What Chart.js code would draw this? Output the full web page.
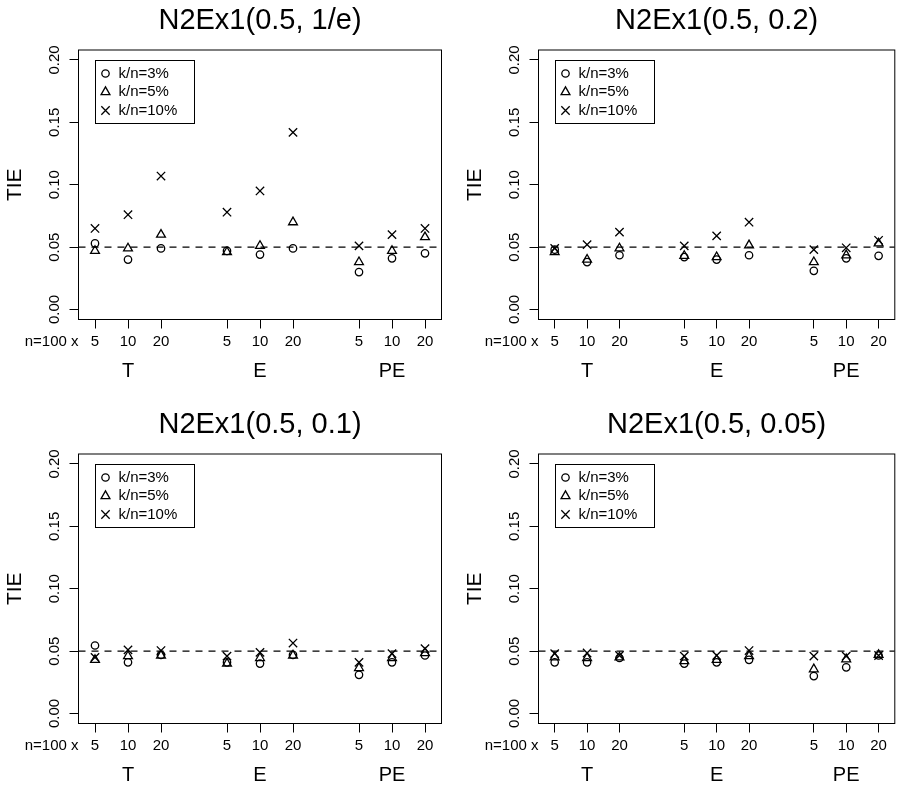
<!DOCTYPE html>
<html>
<head>
<meta charset="utf-8">
<script src="https://cdn.jsdelivr.net/npm/chart.js@4.4.1/dist/chart.umd.min.js"></script>
<style>
  body { margin: 0; background: #fff; width: 902px; height: 785px; position: relative; overflow: hidden; }
  canvas { position: absolute; }
</style>
</head>
<body>
<canvas id="p1" width="451" height="381" style="left:0;top:0"></canvas>
<canvas id="p2" width="442" height="381" style="left:460px;top:0"></canvas>
<canvas id="p3" width="451" height="381" style="left:0;top:404px"></canvas>
<canvas id="p4" width="442" height="381" style="left:460px;top:404px"></canvas>
<script>
"use strict";

const sizeLabels = ["5", "10", "20"];
const methodLabels = ["T", "E", "PE"];
const xPositions = [1, 2, 3, 5, 6, 7, 9, 10, 11];
const methodPositions = [2, 6, 10];
const yTicks = [0, 0.05, 0.1, 0.15, 0.2];
const seriesNames = ["k/n=3%", "k/n=5%", "k/n=10%"];
const nominalLevel = 0.05;

// N2Ex1(0.5, 1/e)
const invE_k3 = [0.053, 0.040, 0.049, 0.047, 0.044, 0.049, 0.030, 0.041, 0.045];
const invE_k5 = [0.047, 0.049, 0.060, 0.046, 0.051, 0.070, 0.038, 0.047, 0.058];
const invE_k10 = [0.065, 0.076, 0.107, 0.078, 0.095, 0.142, 0.051, 0.060, 0.065];

// N2Ex1(0.5, 0.2)
const p02_k3 = [0.048, 0.038, 0.0435, 0.042, 0.040, 0.0435, 0.031, 0.041, 0.043];
const p02_k5 = [0.046, 0.040, 0.049, 0.043, 0.042, 0.0515, 0.038, 0.0435, 0.053];
const p02_k10 = [0.049, 0.052, 0.062, 0.051, 0.059, 0.070, 0.048, 0.0495, 0.0555];

// N2Ex1(0.5, 0.1)
const p01_k3 = [0.0545, 0.041, 0.047, 0.041, 0.040, 0.047, 0.031, 0.041, 0.0465];
const p01_k5 = [0.043, 0.046, 0.0465, 0.040, 0.0445, 0.0465, 0.0365, 0.0445, 0.0485];
const p01_k10 = [0.045, 0.051, 0.0505, 0.046, 0.049, 0.0565, 0.041, 0.048, 0.052];

// N2Ex1(0.5, 0.05)
const p005_k3 = [0.041, 0.041, 0.0445, 0.040, 0.041, 0.043, 0.030, 0.037, 0.0465];
const p005_k5 = [0.045, 0.0445, 0.045, 0.042, 0.043, 0.046, 0.0355, 0.0435, 0.047];
const p005_k10 = [0.048, 0.0485, 0.0465, 0.046, 0.0465, 0.0505, 0.046, 0.046, 0.0465];

const INK = "#000";
const FONT = "'Liberation Sans', Arial, Helvetica, sans-serif";
const X_MIN = 0.5;
const X_MAX = 11.5;
const Y_MIN = -0.008;
const Y_MAX = 0.208;
const TICK_LEN = 9;
const X_LABEL_PAD = 4;
const TICK_FONT = 15;

const markerStyles = [
  { pointStyle: "circle", radius: 3.7 },
  { pointStyle: "triangle", radius: 5.1 },
  { pointStyle: "crossRot", radius: 5.9 }
];

const panels = [
  { id: "p1", title: "N2Ex1(0.5, 1/e)", series: [invE_k3, invE_k5, invE_k10], rightPad: 9.5 },
  { id: "p2", title: "N2Ex1(0.5, 0.2)", series: [p02_k3, p02_k5, p02_k10], rightPad: 0.7 },
  { id: "p3", title: "N2Ex1(0.5, 0.1)", series: [p01_k3, p01_k5, p01_k10], rightPad: 9.5 },
  { id: "p4", title: "N2Ex1(0.5, 0.05)", series: [p005_k3, p005_k5, p005_k10], rightPad: 0.7 }
];

// box round the plot, the key in the corner and the "n=100 x" margin text
const frameAndKey = {
  id: "frameAndKey",
  afterDraw(chart) {
    const { ctx, chartArea: a } = chart;
    ctx.save();
    ctx.strokeStyle = INK;
    ctx.fillStyle = INK;
    ctx.lineWidth = 1;
    ctx.strokeRect(a.left, a.top, a.right - a.left, a.bottom - a.top);

    const kx = Math.round(a.left + 16.5) + 0.5;
    const ky = Math.round(a.top + 10) + 0.5;
    ctx.strokeRect(kx, ky, 99, 63);
    ctx.font = `${TICK_FONT}px ${FONT}`;
    ctx.textBaseline = "middle";
    ctx.textAlign = "left";
    seriesNames.forEach((name, i) => {
      const y = ky + 13 + i * 18.5;
      ctx.fillStyle = "rgba(0,0,0,0)";
      ctx.lineWidth = 1.3;
      Chart.helpers.drawPoint(ctx, {
        pointStyle: markerStyles[i].pointStyle,
        radius: markerStyles[i].radius,
        rotation: 0,
        borderWidth: 1.3
      }, kx + 10, y);
      ctx.fillStyle = INK;
      ctx.fillText(name, kx + 23, y);
    });

    const xs = chart.scales.x;
    ctx.textAlign = "right";
    ctx.fillText("n=100 x", a.left, xs.top + TICK_LEN + X_LABEL_PAD + TICK_FONT * 0.6);
    ctx.restore();
  }
};

function buildPanel(panel) {
  const datasets = panel.series.map((values, i) => ({
    type: "scatter",
    label: seriesNames[i],
    data: values.map((v, j) => ({ x: xPositions[j], y: v })),
    pointStyle: markerStyles[i].pointStyle,
    pointRadius: markerStyles[i].radius,
    pointHoverRadius: markerStyles[i].radius,
    borderWidth: 1.3,
    borderColor: INK,
    backgroundColor: "rgba(0,0,0,0)",
    showLine: false
  }));
  datasets.push({
    type: "line",
    label: "nominal",
    data: [{ x: X_MIN, y: nominalLevel }, { x: X_MAX, y: nominalLevel }],
    borderColor: INK,
    borderWidth: 1.3,
    borderDash: [7, 6],
    pointRadius: 0,
    fill: false,
    tension: 0
  });

  return new Chart(document.getElementById(panel.id), {
    type: "scatter",
    data: { datasets },
    plugins: [frameAndKey],
    options: {
      responsive: false,
      animation: false,
      events: [],
      layout: { padding: { left: 0, right: panel.rightPad, top: 0, bottom: 0 } },
      plugins: {
        legend: { display: false },
        tooltip: { enabled: false },
        title: {
          display: true,
          text: panel.title,
          fullSize: false,
          color: INK,
          font: { family: FONT, size: 29, weight: "normal", lineHeight: 1.2 },
          padding: { top: 4, bottom: 11.2 }
        }
      },
      scales: {
        x: {
          type: "linear",
          position: "bottom",
          min: X_MIN,
          max: X_MAX,
          weight: 0,
          afterBuildTicks: (s) => { s.ticks = xPositions.map((v) => ({ value: v })); },
          afterFit: (s) => { s.height = 34; },
          grid: { display: true, drawOnChartArea: false, drawTicks: true, tickLength: TICK_LEN, color: INK, lineWidth: 1 },
          border: { display: false },
          ticks: {
            autoSkip: false,
            minRotation: 0,
            maxRotation: 0,
            padding: X_LABEL_PAD,
            color: INK,
            font: { family: FONT, size: TICK_FONT },
            callback: (v) => sizeLabels[xPositions.indexOf(v) % sizeLabels.length]
          }
        },
        groups: {
          type: "linear",
          position: "bottom",
          min: X_MIN,
          max: X_MAX,
          weight: 1,
          afterBuildTicks: (s) => { s.ticks = methodPositions.map((v) => ({ value: v })); },
          afterFit: (s) => { s.height = 27.5; },
          grid: { display: false, drawTicks: false },
          border: { display: false },
          ticks: {
            autoSkip: false,
            minRotation: 0,
            maxRotation: 0,
            padding: 6,
            color: INK,
            font: { family: FONT, size: 20 },
            callback: (v) => methodLabels[methodPositions.indexOf(v)]
          }
        },
        y: {
          type: "linear",
          position: "left",
          min: Y_MIN,
          max: Y_MAX,
          afterBuildTicks: (s) => { s.ticks = yTicks.map((v) => ({ value: v })); },
          afterFit: (s) => { s.width = 78.5; },
          grid: { display: true, drawOnChartArea: false, drawTicks: true, tickLength: TICK_LEN, color: INK, lineWidth: 1 },
          border: { display: false },
          title: {
            display: true,
            text: "TIE",
            color: INK,
            font: { family: FONT, size: 21 },
            padding: { top: 2.5, bottom: 0 }
          },
          ticks: {
            autoSkip: false,
            minRotation: 90,
            maxRotation: 90,
            crossAlign: "center",
            padding: 0,
            color: INK,
            font: { family: FONT, size: TICK_FONT },
            callback: (v) => Number(v).toFixed(2)
          }
        }
      }
    }
  });
}

panels.forEach(buildPanel);
</script>
</body>
</html>
